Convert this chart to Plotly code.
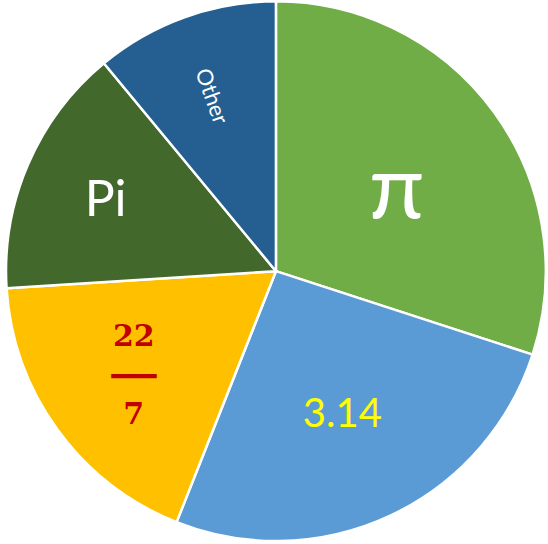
import plotly.graph_objects as go

labels = ["π", "3.14", "22/7", "Pi", "Other"]
values = [30, 26, 18, 15, 11]
colors = ["#70AD47", "#5B9BD5", "#FFC000", "#43682B", "#255E91"]
texts_main = ["π", "3.14",
              "<b>22</b><br><span style='font-family:DejaVu Sans Mono;font-size:25px'>━━━</span><br><b>7</b>",
              "Pi", ""]
text_colors = ["#FFFFFF", "#FFFF00", "#C00000", "#FFFFFF", "#FFFFFF"]
text_sizes = [90, 40, 30, 50, 22]
text_fonts = ["Lato", "Lato", "DejaVu Serif", "Lato", "Lato"]
texts_other = ["", "", "", "", "Other"]

dom = dict(x=[0.011, 0.996], y=[0.005, 0.998])

fig = go.Figure()
fig.add_trace(go.Pie(
    labels=labels, values=values, sort=False, direction="clockwise",
    rotation=0, domain=dom,
    marker=dict(colors=colors, line=dict(color="#FFFFFF", width=2.5)),
    text=texts_main, textinfo="text", textposition="inside",
    insidetextorientation="horizontal",
    textfont=dict(color=text_colors, size=text_sizes, family=text_fonts),
    showlegend=False, hoverinfo="label+percent",
))
fig.add_trace(go.Pie(
    labels=labels, values=values, sort=False, direction="clockwise",
    rotation=0, domain=dom,
    marker=dict(colors=["rgba(0,0,0,0)"] * 5, line=dict(width=0)),
    text=texts_other, textinfo="text", textposition="inside",
    insidetextorientation="radial",
    textfont=dict(color="#FFFFFF", size=22, family="Lato"),
    showlegend=False, hoverinfo="skip",
))
fig.update_layout(
    width=548, height=544,
    margin=dict(l=0, r=0, t=0, b=0),
    paper_bgcolor="#FFFFFF",
)
fig.write_html("out.html", config={"displayModeBar": False},
               post_script="document.body.style.margin='0';")
